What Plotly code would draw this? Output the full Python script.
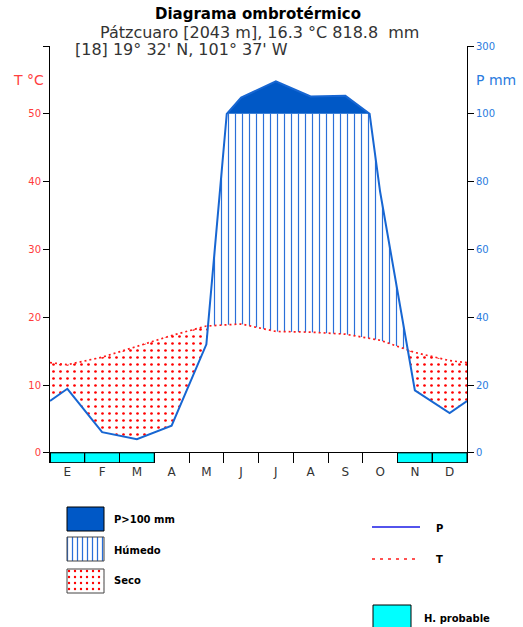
import plotly.graph_objects as go

meses = ["E", "F", "M", "A", "M", "J", "J", "A", "S", "O", "N", "D"]
temperatura = [13.0, 14.1, 15.7, 17.3, 18.7, 19.0, 17.9, 17.8, 17.5, 16.6, 14.8, 13.6]
precipitacion = [18.9, 6.1, 4.0, 8.0, 32.0, 148.0, 196.0, 151.0, 153.0, 77.0, 18.4, 11.7]
helada_probable = [1, 1, 1, 0, 0, 0, 0, 0, 0, 0, 1, 1]

W, H = 523, 627
# plot area in pixels
PX0, PX1, PY0, PY1 = 50, 467, 46, 463
YMIN, YMAX = -1.5, 60

AZUL = "#0058c6"
AZUL_LINEA = "#1766d2"
ROJO = "#ff1a1a"


def escala_p(p):
    # 0-100 mm -> 0-50 (P = 2T), above 100 mm compressed 1:10
    return p / 2 if p <= 100 else 50 + (p - 100) / 20


# month centres plus the wrap-around ends (Dec/Jan average)
t_borde = (temperatura[-1] + temperatura[0]) / 2
p_borde = (precipitacion[-1] + precipitacion[0]) / 2
xs = [0] + [i + 0.5 for i in range(12)] + [12]
ts = [t_borde] + temperatura + [t_borde]
ps = [p_borde] + precipitacion + [p_borde]

# add the points where P crosses 100 mm and where P/2 crosses T
bx, bt, bp = [xs[0]], [ts[0]], [ps[0]]
for i in range(len(xs) - 1):
    xa, xb = xs[i], xs[i + 1]
    ta, tb = ts[i], ts[i + 1]
    pa, pb = ps[i], ps[i + 1]
    fs = []
    if (pa - 100) * (pb - 100) < 0:
        fs.append((100 - pa) / (pb - pa))
    d, e = pa / 2 - ta, pb / 2 - tb
    if d * e < 0:
        fs.append(d / (d - e))
    for f in sorted(fs):
        bx.append(xa + f * (xb - xa))
        bt.append(ta + f * (tb - ta))
        bp.append(pa + f * (pb - pa))
    bx.append(xb)
    bt.append(tb)
    bp.append(pb)
bpd = [escala_p(p) for p in bp]

fig = go.Figure()


def banda(inf, sup, **kw):
    fig.add_trace(go.Scatter(x=bx, y=inf, mode="lines", line=dict(width=0),
                             hoverinfo="skip", showlegend=False))
    fig.add_trace(go.Scatter(x=bx, y=sup, mode="lines", line=dict(width=0),
                             fill="tonexty", hoverinfo="skip", showlegend=False, **kw))


# seco
banda([min(v, t) for v, t in zip(bpd, bt)], bt,
      fillpattern=dict(shape=".", fgcolor="#ff0000", bgcolor="rgba(0,0,0,0)",
                       size=7, solidity=0.12, fillmode="replace"))
# humedo
banda(bt, [max(t, min(v, 50)) for v, t in zip(bpd, bt)],
      fillpattern=dict(shape="|", fgcolor="#2a6fd8", bgcolor="rgba(0,0,0,0)",
                       size=7, solidity=0.17, fillmode="replace"))
# P > 100 mm
banda([50] * len(bx), [max(v, 50) for v in bpd], fillcolor=AZUL)

# helada probable
hx = [i + 0.5 for i, f in enumerate(helada_probable) if f]
fig.add_trace(go.Bar(x=hx, y=[-YMIN - 0.05] * len(hx), base=YMIN + 0.05, width=1,
                     marker=dict(color="#00ffff", line=dict(color="black", width=1)),
                     hoverinfo="skip", showlegend=False))

fig.add_trace(go.Scatter(x=bx, y=bt, mode="lines",
                         line=dict(color=ROJO, width=1.7, dash="2px,3px"),
                         showlegend=False))
# precipitation line on the right (mm) axis, same scale as the left one
fig.add_trace(go.Scatter(x=bx, y=bpd, mode="lines", yaxis="y2",
                         line=dict(color=AZUL_LINEA, width=2),
                         showlegend=False))

# legend drawn on its own pixel axes
def caja(x0, x1, y0, y1, linea="black", **kw):
    fig.add_trace(go.Scatter(x=[x0, x1, x1, x0, x0], y=[y0, y0, y1, y1, y0],
                             mode="lines", fill="toself", line=dict(color=linea, width=1),
                             xaxis="x3", yaxis="y3", hoverinfo="skip",
                             showlegend=False, **kw))


caja(67, 104, 507, 531, fillcolor=AZUL)
caja(67, 104, 537, 561, linea="#444",
     fillpattern=dict(shape="|", fgcolor="#2a6fd8", bgcolor="white",
                      size=5, solidity=0.25, fillmode="replace"))
caja(67, 104, 569, 593, linea="#444",
     fillpattern=dict(shape=".", fgcolor="#ff0000", bgcolor="white",
                      size=6, solidity=0.12, fillmode="replace"))
caja(373, 411, 605, 630, fillcolor="#00ffff")
fig.add_trace(go.Scatter(x=[372, 420], y=[527, 527], mode="lines",
                         line=dict(color="#1a1ae6", width=1.5),
                         xaxis="x3", yaxis="y3", showlegend=False))
fig.add_trace(go.Scatter(x=[372, 420], y=[559, 559], mode="lines",
                         line=dict(color=ROJO, width=1.6, dash="3px,5px"),
                         xaxis="x3", yaxis="y3", showlegend=False))

leyenda = [("P&gt;100 mm", 112, 519), ("Húmedo", 112, 550), ("Seco", 112, 580),
           ("P", 434, 528), ("T", 434, 559), ("H. probable", 422, 618)]
for txt, x, y in leyenda:
    fig.add_annotation(text="<b>" + txt + "</b>", x=x, y=y, xref="x3", yref="y3",
                       xanchor="left", yanchor="middle", showarrow=False,
                       font=dict(size=10, color="black"))

# titles
def texto(txt, x, y, size, color="#333", anchor="center"):
    fig.add_annotation(text=txt, x=x / W, y=1 - y / H, xref="paper", yref="paper",
                       xanchor=anchor, yanchor="middle", showarrow=False,
                       borderpad=0, font=dict(size=size, color=color))


texto("<b>Diagrama ombrotérmico</b>", 258, 14, 15, "black")
texto("Pátzcuaro [2043 m], 16.3 °C 818.8\u00a0\u00a0mm", 259, 32, 16)
texto("[18] 19° 32' N, 101° 37' W", 74, 49, 16, anchor="left")
texto("T °C", 28, 80, 14, "#ff4040")
texto("P mm", 496, 80, 14, "#2a7bde")

dom_x = [PX0 / W, PX1 / W]
dom_y = [1 - PY1 / H, 1 - PY0 / H]
ticks_y = [0, 10, 20, 30, 40, 50, 60]

fig.update_layout(
    width=W, height=H, autosize=False,
    margin=dict(l=0, r=0, t=0, b=0, autoexpand=False),
    paper_bgcolor="white", plot_bgcolor="rgba(0,0,0,0)",
    font=dict(family="DejaVu Sans", color="#333"),
    showlegend=False, barmode="overlay",
    xaxis=dict(domain=dom_x, range=[0, 12], anchor="y", automargin=False,
               tickvals=[i + 0.5 for i in range(12)], ticktext=meses,
               ticks="", showline=False, showgrid=False, zeroline=False,
               tickfont=dict(size=12, color="#333"),
               minor=dict(tick0=0, dtick=1, ticks="inside", ticklen=10,
                          tickcolor="black", tickwidth=1, showgrid=False)),
    yaxis=dict(domain=dom_y, range=[YMIN, YMAX], anchor="x", automargin=False,
               tickvals=ticks_y, ticktext=["0", "10", "20", "30", "40", "50", ""],
               ticks="outside", ticklen=6, tickcolor="black",
               showline=True, linecolor="black", linewidth=1,
               showgrid=False, zeroline=True, zerolinecolor="black", zerolinewidth=1,
               tickfont=dict(size=10, color="#ff3b3b")),
    yaxis2=dict(overlaying="y", side="right", anchor="x", range=[YMIN, YMAX],
                automargin=False, tickvals=ticks_y,
                ticktext=["0", "20", "40", "60", "80", "100", "300"],
                ticks="outside", ticklen=6, tickcolor="black",
                showline=True, linecolor="black", linewidth=1,
                showgrid=False, zeroline=False,
                tickfont=dict(size=10, color="#2a7bde")),
    xaxis3=dict(domain=[0, 1], range=[0, W], anchor="y3", visible=False),
    yaxis3=dict(domain=[0, 1 - 490 / H], range=[H, 490], anchor="x3", visible=False),
)

fig.write_html("out.html", config={"displayModeBar": False},
               post_script="document.body.style.margin='0';"
                           "document.body.style.overflow='hidden';")
